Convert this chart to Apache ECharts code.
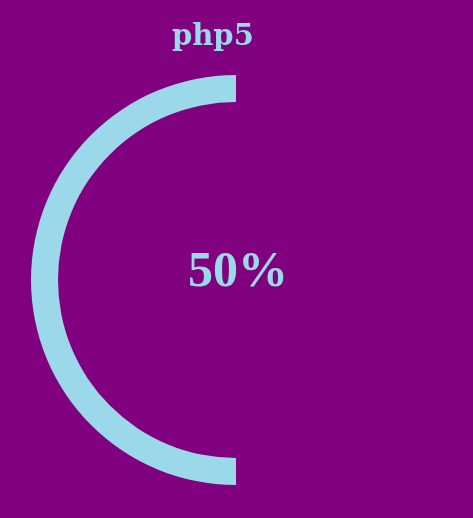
<!DOCTYPE html>
<html><head><meta charset="utf-8">
<style>html,body{margin:0;padding:0;background:#800080;}#c{width:473px;height:518px;}</style>
<script src="https://cdn.jsdelivr.net/npm/echarts@6/dist/echarts.min.js"></script>
</head><body><div id="c"></div>
<script>
var titleText = 'php5';
var categories = ['php5', 'rest'];
var values = [50, 50];
var ringColor = '#9bd8ea';
var chart = echarts.init(document.getElementById('c'), null, {renderer: 'canvas'});
var total = values[0] + values[1];
var pct = Math.round(values[0] / total * 100) + '%';
chart.setOption({
  backgroundColor: '#800080',
  animation: false,
  title: [
    {text: titleText, left: 167, top: 18,
     textStyle: {color: ringColor, fontFamily: 'DejaVu Serif', fontWeight: 'bold', fontSize: 29}},
    {text: pct, left: 183, top: 243,
     textStyle: {color: ringColor, fontFamily: 'Liberation Serif', fontWeight: 'bold', fontSize: 50}}
  ],
  series: [{
    type: 'pie',
    center: [236, 280],
    radius: [178, 205],
    clockwise: false,
    startAngle: 90,
    silent: true,
    label: {show: false},
    labelLine: {show: false},
    data: [
      {name: categories[0], value: values[0], itemStyle: {color: ringColor}},
      {name: categories[1], value: values[1], itemStyle: {color: 'rgba(0,0,0,0)'}}
    ]
  }]
});
</script></body></html>
